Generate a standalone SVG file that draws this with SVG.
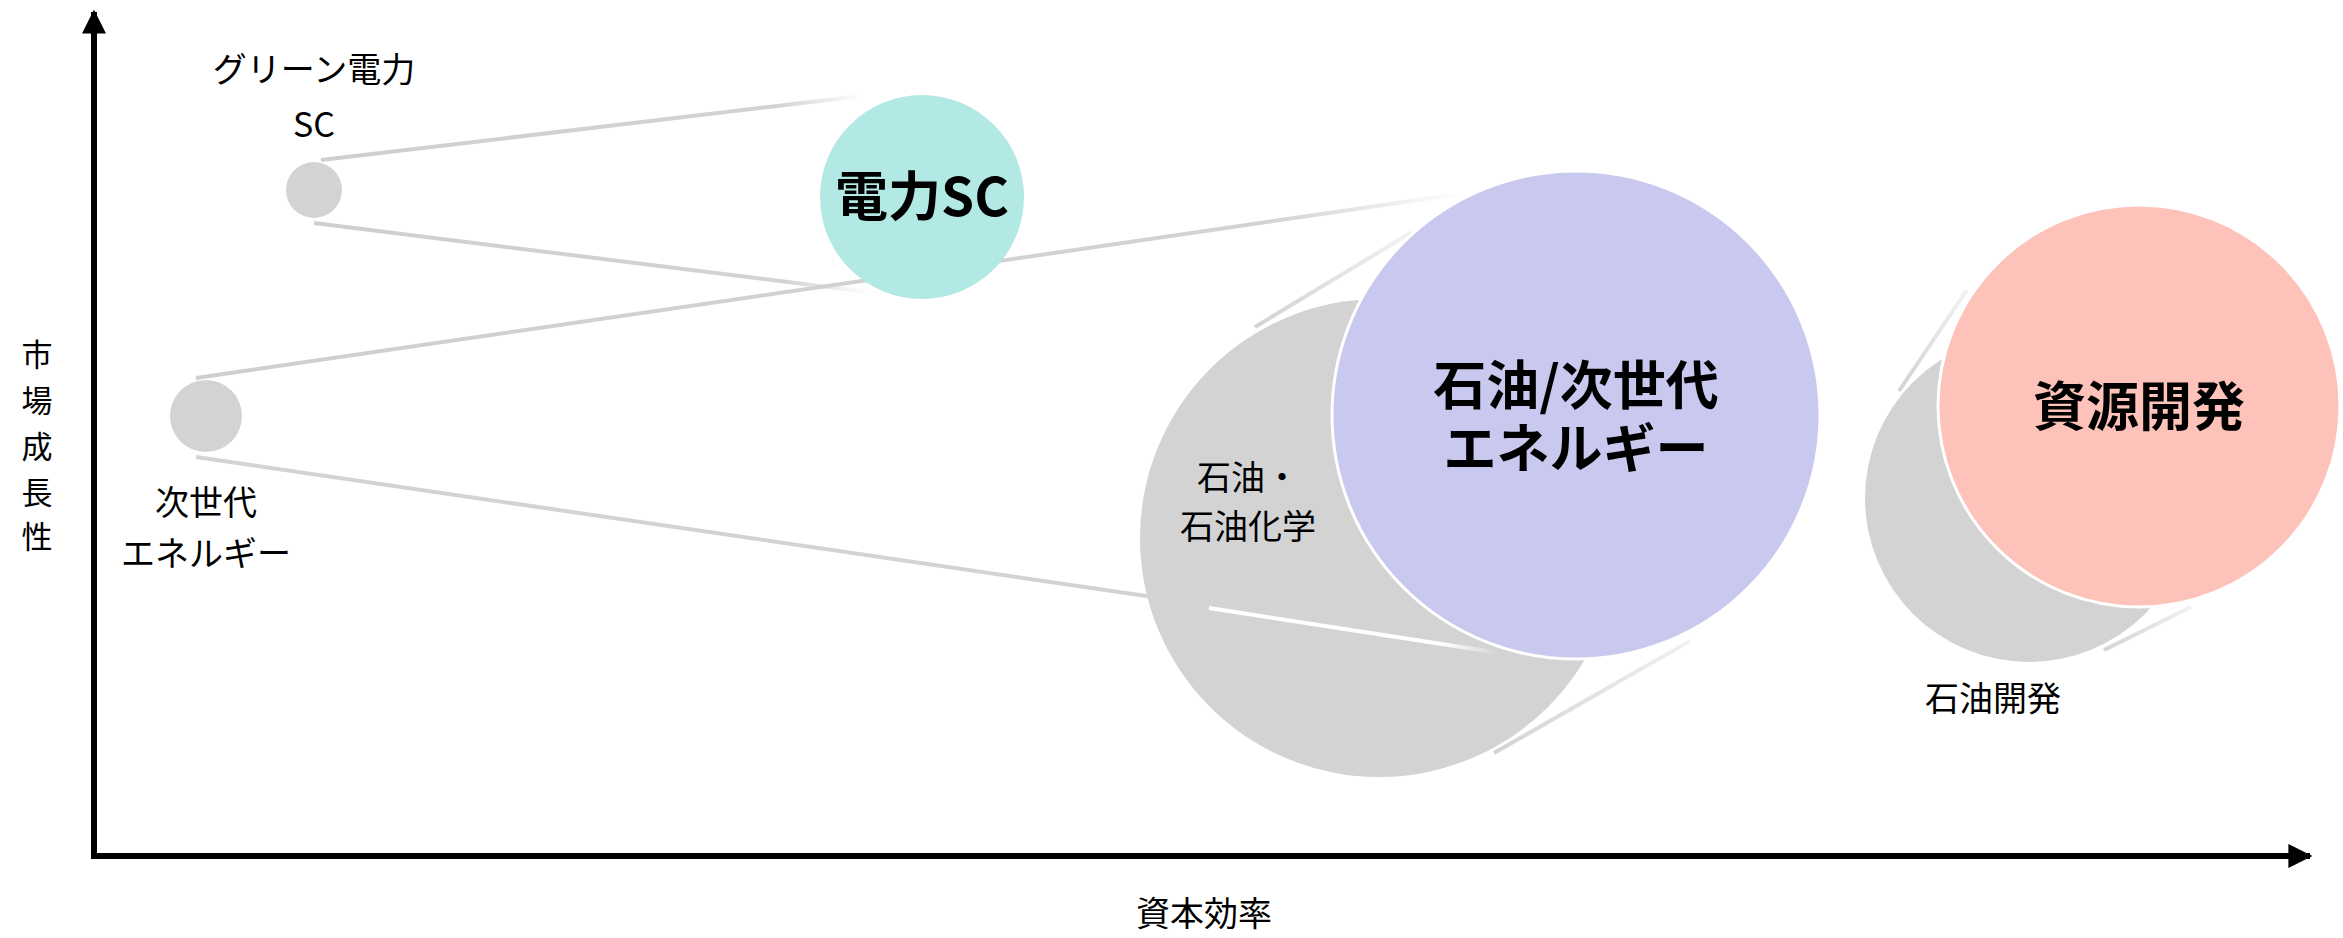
<svg xmlns="http://www.w3.org/2000/svg" width="2343" height="938" viewBox="0 0 2343 938">
<defs>
<style>
text{font-family:"Noto Sans CJK JP","Noto Sans",sans-serif;fill:#000;text-anchor:middle}
.lbl{font-size:34px}
.ylbl{font-size:31px}
.big{font-size:53px;font-weight:bold}
.ax{stroke:#000;stroke-width:6;fill:none}
.cn{stroke-width:4;fill:none}
</style>
<linearGradient id="fadeR" x1="0" y1="0" x2="1" y2="0">
<stop offset="0" stop-color="#cfcfcf"/><stop offset="0.85" stop-color="#d3d3d3"/><stop offset="1" stop-color="#d3d3d3" stop-opacity="0"/>
</linearGradient>
<linearGradient id="fadeW" x1="0" y1="0" x2="1" y2="0">
<stop offset="0" stop-color="#ffffff"/><stop offset="0.8" stop-color="#ffffff"/><stop offset="1" stop-color="#ffffff" stop-opacity="0"/>
</linearGradient>
<linearGradient id="fadeL" x1="0" y1="0" x2="1" y2="0">
<stop offset="0" stop-color="#d3d3d3"/><stop offset="1" stop-color="#d3d3d3" stop-opacity="0.3"/>
</linearGradient>
<marker id="arr" viewBox="0 0 10 10" refX="9" refY="5" markerWidth="4" markerHeight="4" orient="auto" markerUnits="strokeWidth">
<path d="M0,0 L10,5 L0,10 z" fill="#000"/>
</marker>
</defs>

<g id="axes">
<path class="ax" d="M94,856 V12" marker-end="url(#arr)"/>
<path class="ax" d="M91,856 H2310" marker-end="url(#arr)"/>
</g>

<g id="connectors">
<line class="cn" x1="321" y1="160" x2="862" y2="96" stroke="url(#fadeR)"/>
<line class="cn" x1="314" y1="223" x2="868" y2="292" stroke="url(#fadeR)"/>
<line class="cn" x1="196" y1="378" x2="1466" y2="193" stroke="url(#fadeR)"/>
<line class="cn" x1="196" y1="457" x2="1160" y2="598" stroke="#d3d3d3"/>
<line class="cn" x1="1255" y1="327" x2="1412" y2="232" stroke="url(#fadeL)"/>
<line class="cn" x1="1494" y1="753" x2="1690" y2="641" stroke="url(#fadeL)"/>
<line class="cn" x1="1899" y1="391" x2="1967" y2="290" stroke="url(#fadeL)"/>
<line class="cn" x1="2104" y1="650" x2="2191" y2="607" stroke="url(#fadeL)"/>
</g>

<g id="node-green-small">
<circle cx="314" cy="190" r="28" fill="#d3d3d3"/>
<text class="lbl" x="314" y="82">グリーン電力</text>
<text class="lbl" x="314" y="137">SC</text>
</g>

<g id="node-power-sc">
<circle cx="922" cy="197" r="102" fill="#b3e9e4"/>
<text class="big" x="922" y="216">電力SC</text>
</g>

<g id="node-nextgen-small">
<circle cx="206" cy="416" r="36" fill="#d3d3d3"/>
<text class="lbl" x="206" y="515">次世代</text>
<text class="lbl" x="206" y="566">エネルギー</text>
</g>

<g id="node-petro">
<circle cx="1379" cy="538" r="239" fill="#d3d3d3"/>
<line class="cn" x1="1209" y1="608" x2="1500" y2="653" stroke="url(#fadeW)"/>
<text class="lbl" x="1248" y="490">石油・</text>
<text class="lbl" x="1248" y="539">石油化学</text>
</g>

<g id="node-oil-nextgen">
<circle cx="1576" cy="415" r="244" fill="#c9c8ef" stroke="#fff" stroke-width="3"/>
<text class="big" x="1576" y="405">石油/次世代</text>
<text class="big" x="1576" y="468">エネルギー</text>
</g>

<g id="node-oil-dev">
<circle cx="2029" cy="498" r="164" fill="#d3d3d3"/>
<text class="lbl" x="1993" y="711">石油開発</text>
</g>

<g id="node-resource">
<circle cx="2139" cy="406" r="201" fill="#fdc2b9" stroke="#fff" stroke-width="3"/>
<text class="big" x="2139" y="426">資源開発</text>
</g>

<g id="axis-labels">
<text class="ylbl" x="37" y="366">市</text>
<text class="ylbl" x="37" y="412">場</text>
<text class="ylbl" x="37" y="458">成</text>
<text class="ylbl" x="37" y="504">長</text>
<text class="ylbl" x="37" y="548">性</text>
<text class="lbl" x="1204" y="926">資本効率</text>
</g>
</svg>
